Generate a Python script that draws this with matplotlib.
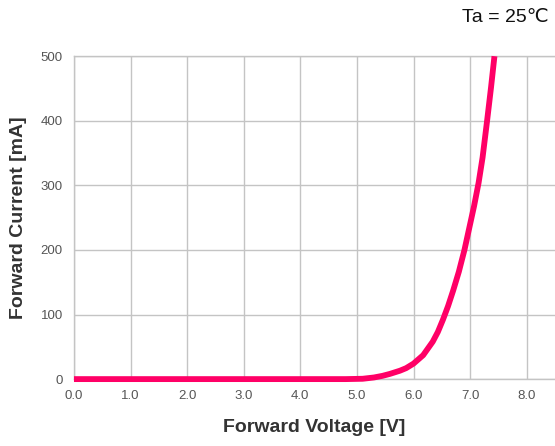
import matplotlib
matplotlib.use("Agg")
import matplotlib.pyplot as plt

plt.rcParams["font.family"] = ["Liberation Sans", "DejaVu Sans", "Noto Sans CJK JP"]

# forward voltage [V] vs forward current [mA], Ta = 25 C
voltage = [0.0, 4.8, 5.1, 5.3, 5.45, 5.58, 5.76, 5.87, 6.0, 6.17, 6.34, 6.43,
           6.52, 6.61, 6.70, 6.80, 6.90, 7.0, 7.07, 7.15, 7.22, 7.30, 7.37, 7.43]
current = [0, 0, 0.5, 2.5, 5, 8, 13, 17, 24, 37, 58, 73,
           92, 113, 137, 166, 200, 240, 268, 304, 343, 400, 452, 500]

x_ticks = [0, 1, 2, 3, 4, 5, 6, 7, 8]
y_ticks = [0, 100, 200, 300, 400, 500]

fig = plt.figure(figsize=(5.55, 4.46), dpi=100)
ax = fig.add_axes([0.1333, 0.150, 0.8667, 0.724])

ax.plot(voltage, current, color="#ff0066", lw=4.2, solid_capstyle="butt",
        solid_joinstyle="round", zorder=3, clip_on=False)

ax.set_xlim(0, 8.5)
ax.set_ylim(0, 500)
ax.set_xticks(x_ticks)
ax.set_xticklabels(["{:.1f}".format(v) for v in x_ticks])
ax.set_yticks(y_ticks)
ax.grid(True, color="#c4c4c4", lw=1.0)
ax.set_axisbelow(True)
ax.tick_params(length=0, labelsize=9.5, labelcolor="#555555", pad=8)

for side in ["top", "left", "bottom"]:
    ax.spines[side].set_color("#c4c4c4")
    ax.spines[side].set_linewidth(1.0)
ax.spines["right"].set_visible(False)

ax.set_xlabel("Forward Voltage [V]", fontsize=14, fontweight="bold", color="#333333", labelpad=12)
ax.set_ylabel("Forward Current [mA]", fontsize=14, fontweight="bold", color="#333333", labelpad=10)

fig.text(0.988, 0.96, "Ta = 25℃", fontsize=14, ha="right", va="center", color="#111111")

fig.savefig("out.png", dpi=100)
